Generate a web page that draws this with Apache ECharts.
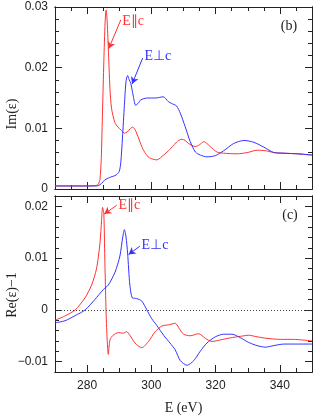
<!DOCTYPE html>
<html><head><meta charset="utf-8">
<script src="https://cdn.jsdelivr.net/npm/echarts@6/dist/echarts.min.js"></script>
<style>html,body{margin:0;padding:0;background:#fff}#c{width:318px;height:416px}</style>
</head><body><div id="c"></div>
<script>
// ---- data ----
var imParE = [270,280,283,283.5,284,284.4,284.8,285.2,285.6,285.9,286.2,286.6,287.1,287.6,288.6,289.6,290.6,291.6,292.5,293.3,294.2,295,296,297,298,299,300,301.7,303.8,305.3,306.9,308.2,309.5,310.5,311.6,313.7,315,316.3,317.3,318.3,320.4,322.5,326.7,329.8,333,335.6,338.2,341.3,345.4,350];
var imParV = [0.0005,0.0005,0.0006,0.0008,0.0016,0.005,0.013,0.021,0.0275,0.0295,0.028,0.0232,0.0166,0.0133,0.011,0.0102,0.0097,0.0092,0.0094,0.0099,0.0102,0.0097,0.0084,0.007,0.006,0.0053,0.005,0.0048,0.0056,0.0063,0.0072,0.0079,0.0082,0.008,0.0075,0.007,0.0073,0.0078,0.0075,0.007,0.0061,0.0059,0.0058,0.006,0.0064,0.0063,0.006,0.0059,0.0058,0.0056];
var imPerpE = [270,283,284,285,285.5,287,289,290,290.5,291,291.6,292.1,292.6,293.1,293.6,294.3,295.1,296,296.7,298.7,301.3,303.7,305.3,306.3,307.8,309,310.5,312.1,313.7,315.2,317.3,319.9,322.5,325.6,328.8,331.9,335,338.2,341.3,345.4,350];
var imPerpV = [0.0005,0.0005,0.0007,0.0012,0.0015,0.0019,0.0023,0.0029,0.0045,0.0084,0.0138,0.0177,0.0187,0.018,0.0174,0.0155,0.0138,0.0142,0.0147,0.015,0.015,0.0152,0.0144,0.0141,0.0137,0.0125,0.0103,0.0078,0.0061,0.0056,0.0053,0.0055,0.0063,0.0075,0.008,0.0077,0.0069,0.006,0.0059,0.0058,0.0056];
var reParE = [270,273,276.3,279.3,281.4,282.9,284,284.5,284.8,285.2,285.5,285.8,286.1,286.6,287.1,288.1,289.7,291.3,292.3,293.3,294.9,297,299.1,301.2,303.3,305.3,307.4,309,310,312.1,314.7,316.8,318.9,321.5,324.6,327.8,330.3,332.9,336,340.2,344.3,350];
var reParV = [-0.002,-0.0012,0,0.0023,0.0048,0.0079,0.0129,0.0173,0.0198,0.0185,0.01,0.002,-0.004,-0.0086,-0.0058,-0.0049,-0.0044,-0.0045,-0.0042,-0.0049,-0.0064,-0.0073,-0.0061,-0.0042,-0.0031,-0.0029,-0.0026,-0.0039,-0.0047,-0.005,-0.0046,-0.0055,-0.0061,-0.0058,-0.0054,-0.0051,-0.0049,-0.0052,-0.0055,-0.0057,-0.0057,-0.006];
var rePerpE = [270,273.1,276.3,279.4,282.4,285,286.6,288.7,290.2,291.1,291.6,292.1,292.6,293.3,294.1,295.4,297,298.6,300.1,301.7,303.8,305.8,307.4,309,311.1,313.2,315.2,317.3,319.9,322.5,325.1,327.8,330.3,332.9,335.5,338.1,341.3,345.4,350];
var rePerpV = [-0.0025,-0.0021,-0.0011,0,0.002,0.0039,0.0048,0.0073,0.0104,0.0141,0.0155,0.0141,0.011,0.0048,0.0023,0.0022,0.0017,0,-0.0017,-0.003,-0.0049,-0.0064,-0.0077,-0.0098,-0.0107,-0.0098,-0.008,-0.0064,-0.0052,-0.0047,-0.0047,-0.0054,-0.0063,-0.0069,-0.0072,-0.0069,-0.0066,-0.0066,-0.0066];
var xTicks = [280,300,320,340];
var imTicks = [0,0.01,0.02,0.03];
var reTicks = [-0.01,0,0.01,0.02];
// annotation anchors [E, value]
var annImPar = {text:'E\u2225c', label:[290.8,0.0277], from:[290.5,0.0279], to:[286.7,0.0231]};
var annImPerp = {text:'E\u22a5c', label:[297.7,0.0218], from:[297.3,0.0216], to:[294.0,0.0173]};
var annRePar = {text:'E\u2225c', label:[289.6,0.0202], from:[289.2,0.0202], to:[285.3,0.0185]};
var annRePerp = {text:'E\u22a5c', label:[296.8,0.0125], from:[296.4,0.0123], to:[292.9,0.0107]};

function zip(a,b){return a.map(function(x,i){return [x,b[i]];});}
var RED='#ff3333', BLUE='#3333ff', INK='#222';
var tickFont = {fontFamily:'Liberation Sans', fontSize:12, color:INK};
function fmt(v){ if (Math.abs(v)<1e-9) return '0'; var s=v.toFixed(2); return s.replace('-','\u2212'); }

function xAx(grid, pos, major, labels){
  var a = {type:'value', gridIndex:grid, position:pos, min:270, max:350,
    splitLine:{show:false}, axisLine:{show:true, onZero:false, lineStyle:{color:INK,width:1}}};
  if (major){
    a.axisTick = {show:true, inside:true, length:7, customValues:xTicks, lineStyle:{color:INK}};
    a.axisLabel = labels ? Object.assign({show:true, margin:8, customValues:xTicks}, tickFont) : {show:false};
  } else {
    a.interval = 5;
    a.axisTick = {show:true, inside:true, length:4, lineStyle:{color:INK}};
    a.axisLabel = {show:false};
  }
  return a;
}
function yAx(grid, pos, major, labels, min, max, ticks){
  var a = {type:'value', gridIndex:grid, position:pos, min:min, max:max,
    splitLine:{show:false}, axisLine:{show:true, onZero:false, lineStyle:{color:INK,width:1}}};
  if (major){
    a.axisTick = {show:true, inside:true, length:7, customValues:ticks, lineStyle:{color:INK}};
    a.axisLabel = labels ? Object.assign({show:true, margin:7, customValues:ticks, formatter:fmt}, tickFont) : {show:false};
  } else {
    a.interval = 0.002;
    a.axisTick = {show:true, inside:true, length:4, lineStyle:{color:INK}};
    a.axisLabel = {show:false};
  }
  return a;
}

var xAxes = [], yAxes = [];
[0,1].forEach(function(g){
  xAxes.push(xAx(g,'bottom',true,g===1));
  xAxes.push(xAx(g,'bottom',false));
  xAxes.push(xAx(g,'top',true,false));
  xAxes.push(xAx(g,'top',false));
  var mn = g===0?0:-0.012, mx = g===0?0.03:0.022, tk = g===0?imTicks:reTicks;
  yAxes.push(yAx(g,'left',true,true,mn,mx,tk));
  yAxes.push(yAx(g,'left',false,false,mn,mx));
  yAxes.push(yAx(g,'right',true,false,mn,mx,tk));
  yAxes.push(yAx(g,'right',false,false,mn,mx));
});
xAxes[4].name = 'E (eV)';
xAxes[4].nameLocation = 'middle';
xAxes[4].nameGap = 29;
xAxes[4].nameTextStyle = {fontFamily:'Liberation Serif', fontSize:14, color:INK};

function arrow(a,color){
  return {silent:true, symbol:['none','arrow'], symbolSize:[6,7], label:{show:false},
    lineStyle:{color:color,width:1,type:'solid'}, emphasis:{disabled:true},
    data:[[{coord:a.from},{coord:a.to}]]};
}
function lbl(a,color){
  return {silent:true, symbol:'circle', symbolSize:1, itemStyle:{color:'rgba(0,0,0,0)'},
    label:{show:true, position:'right', distance:0, formatter:a.text, color:color,
      fontFamily:'Liberation Serif', fontSize:14},
    data:[{coord:a.label}]};
}
function line(name,data,color,g,extra){
  var s = {type:'line', name:name, data:data, xAxisIndex:g*4, yAxisIndex:g*4,
    showSymbol:false, smooth:0.25, lineStyle:{color:color,width:1}, itemStyle:{color:color},
    silent:true, animation:false};
  return Object.assign(s, extra||{});
}

var series = [
  line('Im par', zip(imParE,imParV), RED, 0, {markLine:arrow(annImPar,RED), markPoint:lbl(annImPar,RED)}),
  line('Im perp', zip(imPerpE,imPerpV), BLUE, 0, {markLine:arrow(annImPerp,BLUE), markPoint:lbl(annImPerp,BLUE)}),
  line('Re par', zip(reParE,reParV), RED, 1, {markLine:arrow(annRePar,RED), markPoint:lbl(annRePar,RED)}),
  line('Re perp', zip(rePerpE,rePerpV), BLUE, 1, {markLine:arrow(annRePerp,BLUE), markPoint:lbl(annRePerp,BLUE)}),
  {type:'line', data:[], xAxisIndex:4, yAxisIndex:4, silent:true,
    markLine:{silent:true, symbol:'none', label:{show:false}, lineStyle:{color:'#444',width:1,type:[1,2]},
      data:[{yAxis:0}]}}
];

var chart = echarts.init(document.getElementById('c'), null, {renderer:'canvas'});
chart.setOption({
  animation:false,
  backgroundColor:'#fff',
  grid:[{left:55,top:7,width:257,height:182},{left:55,top:196,width:257,height:182}],
  xAxis:xAxes, yAxis:yAxes, series:series,
  graphic:[
    {type:'text', x:12, y:114, rotation:Math.PI/2, style:{text:'Im(\u03b5)', align:'center', verticalAlign:'middle', font:'14px "Liberation Serif"', fill:INK}},
    {type:'text', x:12, y:295, rotation:Math.PI/2, style:{text:'Re(\u03b5)\u22121', align:'center', verticalAlign:'middle', font:'14px "Liberation Serif"', fill:INK}},
    {type:'text', x:289, y:26, style:{text:'(b)', align:'center', verticalAlign:'middle', font:'14px "Liberation Serif"', fill:INK}},
    {type:'text', x:290, y:215, style:{text:'(c)', align:'center', verticalAlign:'middle', font:'14px "Liberation Serif"', fill:INK}}
  ]
});
</script></body></html>
